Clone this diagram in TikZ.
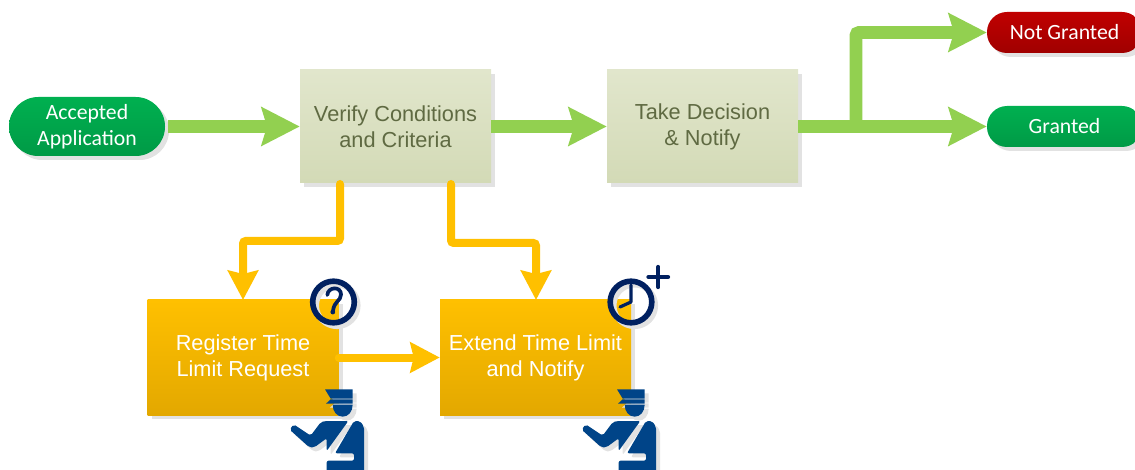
\documentclass[tikz,border=0pt]{standalone}
\usepackage{fontspec}
\setmainfont{Liberation Sans}
\newfontfamily\calib{Carlito}
\usetikzlibrary{arrows.meta,shadows,calc}
\definecolor{grA}{HTML}{00B050}
\definecolor{grB}{HTML}{009A46}
\definecolor{rdA}{HTML}{C00000}
\definecolor{rdB}{HTML}{A00000}
\definecolor{olA}{HTML}{E1E6CC}
\definecolor{olB}{HTML}{D3DAB6}
\definecolor{yeA}{HTML}{FFC000}
\definecolor{yeB}{HTML}{E3A800}
\definecolor{arG}{HTML}{92D050}
\definecolor{arY}{HTML}{FFC000}
\definecolor{navyI}{HTML}{002060}
\definecolor{blueI}{HTML}{004488}
\definecolor{shad}{HTML}{E2E2E2}
\definecolor{oltxt}{HTML}{5F6A42}
\tikzset{
  x=0.75pt,y=-0.75pt,
  boxshadow/.style={general shadow={fill=shad,shadow xshift=3pt,shadow yshift=-3pt}},
  procbox/.style={rectangle,boxshadow,minimum width=143.25pt,inner sep=0pt,align=center,font=\fontsize{16.3pt}{19.5pt}\selectfont},
  verifybox/.style={procbox,minimum height=84.75pt,top color=olA,bottom color=olB,text=oltxt},
  timebox/.style={procbox,minimum height=86.25pt,top color=yeA,bottom color=yeB,text=white},
  pillbox/.style={rectangle,rounded corners=15pt,boxshadow,inner sep=0pt,align=center,text=white,font=\calib\fontsize{16.3pt}{19.5pt}\selectfont},
  greenarrow/.style={draw=arG,line width=9.4pt,-{Stealth[length=28.5pt,width=28.5pt,inset=4pt,fill=arG]},rounded corners=2pt},
  yellowarrow/.style={draw=arY,line width=6pt,line cap=round,-{Stealth[length=22pt,width=22.5pt,inset=2.5pt,fill=arY]},rounded corners=2pt},
  iconring/.style={draw=navyI,line width=4.2pt,fill=none},
  iconshadow/.style={draw=shad,line width=4.2pt,fill=none},
}
\newcommand{\officershape}[1]{%
  \fill[#1] (135,58) -- (218,58) -- (218,86) -- (152,86) -- cycle;
  \fill[#1] (152,88) -- (218,88) -- (218,101) -- (138,101) -- cycle;
  \fill[#1] (158,104) -- (218,104) .. controls (218,125) and (205,140) .. (188,140) .. controls (171,140) and (158,125) .. (158,104) -- cycle;
  \fill[#1,rounded corners=1.5pt] (29,179) -- (41,163) -- (92,197) -- (122,157) -- (135,153) -- (205,153) -- (140,243) -- (140,205) -- (103,232) -- (88,232) -- cycle;
  \fill[#1,rounded corners=1.5pt] (222,153) -- (240,153) -- (252,170) -- (252,310) -- (140,310) -- (140,272) -- (222,272) -- (222,250) -- (165,250) -- cycle;
}
\newcommand{\officer}[2]{%
\begin{scope}[shift={(#1,#2)},x=0.25pt,y=-0.25pt]
  \begin{scope}[shift={(12,12)}]\officershape{shad}\end{scope}
  \officershape{blueI}
\end{scope}}
\begin{document}
\begin{tikzpicture}
\useasboundingbox (0,0) rectangle (1135,470);
\clip (0,0) rectangle (1135,470);

\node[pillbox,minimum width=117pt,minimum height=44.25pt,top color=grA,bottom color=grB,rounded corners=22pt] (app) at (87,126.5) {Accepted\\Application};
\node[verifybox] (verify) at (395.5,126.5) {Verify Conditions\\and Criteria};
\node[verifybox] (take) at (702.5,126.5) {Take Decision\\\&\ Notify};
\node[pillbox,minimum width=116.25pt,minimum height=30.75pt,top color=rdA,bottom color=rdB] (notg) at (1064.5,32.5) {Not Granted};
\node[pillbox,minimum width=116.25pt,minimum height=30.75pt,top color=grA,bottom color=grB] (gr) at (1064.5,126.5) {Granted};
\node[timebox] (reg) at (243,357.5) {Register Time\\Limit Request};
\node[timebox] (ext) at (535.5,357.5) {Extend Time Limit\\and Notify};

\coordinate (j) at (856,126.5);
\coordinate (v1) at (340,184);
\coordinate (v2) at (451,184);
\coordinate (r1) at (243,300);
\coordinate (e1) at (536,300);

\draw[greenarrow,shorten <=2pt] (app.east) -- (verify.west);
\draw[greenarrow] (verify.east) -- (take.west);
\draw[greenarrow] (take.east) -- (gr.west);
\draw[greenarrow] (j) -- (notg.west -| j) -- (notg.west);
\draw[yellowarrow] (v1) -- (340,241) -- (243,241) -- (r1);
\draw[yellowarrow] (v2) -- (451,243) -- (536,243) -- (e1);
\draw[yellowarrow] (reg.east) -- (ext.west);

% question icon
\draw[iconshadow] (337,305.5) circle (20.8);
\draw[iconring] (333.5,302) circle (20.8);
\draw[navyI,line width=2.8pt,line cap=round] (327.3,295) .. controls (328,286.5) and (341,286) .. (341,294.5) .. controls (341,301) and (334,301) .. (333,311);
\fill[navyI] (332.8,312) circle (2.4);
% clock icon
\draw[iconshadow] (634.5,305.5) circle (20.8);
\draw[iconring] (631,302) circle (20.8);
\draw[navyI,line width=2.4pt,line cap=round,line join=round] (631,285) -- (631,302) -- (620,307);
\draw[navyI,line width=3.2pt,line cap=round] (648.5,277) -- (668,277) (658.3,267) -- (658.3,287);

\officer{280}{370}
\officer{572}{370}
\end{tikzpicture}
\end{document}
